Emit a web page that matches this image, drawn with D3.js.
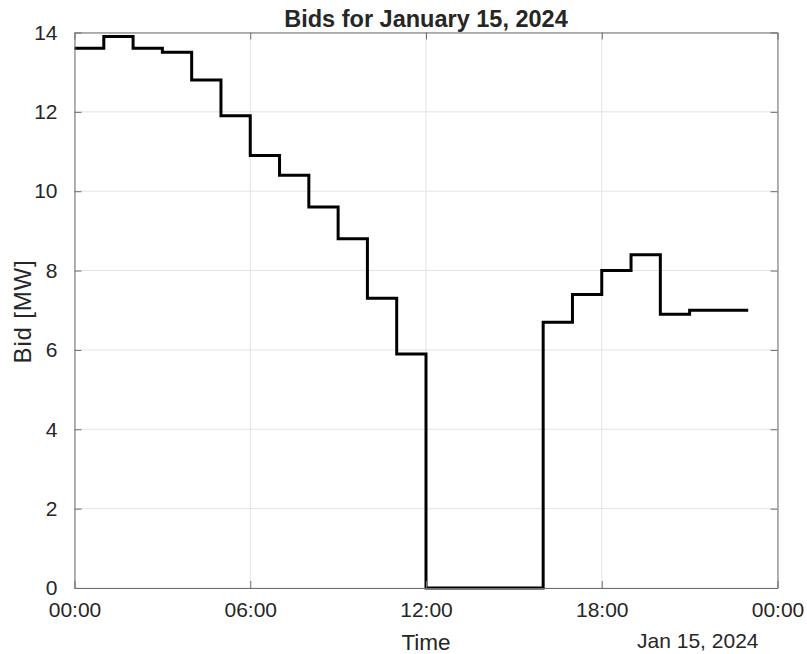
<!DOCTYPE html>
<html>
<head>
<meta charset="utf-8">
<script src="https://cdn.jsdelivr.net/npm/d3@7"></script>
<style>
  body { margin: 0; background: #fff; }
  text { font-family: "Liberation Sans", Arial, sans-serif; fill: #262626; }
</style>
</head>
<body>
<div id="chart"></div>
<script>
// hourly bids on Jan 15, 2024 (hour of day -> MW)
const hours = [0, 1, 2, 3, 4, 5, 6, 7, 8, 9, 10, 11, 12, 13, 14, 15, 16, 17, 18, 19, 20, 21, 22, 23];
const bids = [13.6, 13.9, 13.6, 13.5, 12.8, 11.9, 10.9, 10.4, 9.6, 8.8, 7.3, 5.9,
  0, 0, 0, 0, 6.7, 7.4, 8.0, 8.4, 6.9, 7.0, 7.0, 7.0];
const yTicks = [0, 2, 4, 6, 8, 10, 12, 14];
const xTickHours = [0, 6, 12, 18, 24];

const width = 807;
const height = 654;
const margin = { top: 32.5, right: 29.5, bottom: 66, left: 74.5 };
const chartWidth = width - margin.left - margin.right;
const chartHeight = height - margin.top - margin.bottom;

const day = h => new Date(2024, 0, 15, h);
const data = hours.map((h, i) => ({ t: day(h), v: bids[i] }));

const svg = d3.select('#chart')
  .append('svg')
  .attr('width', width)
  .attr('height', height)
  .append('g')
  .attr('transform', `translate(${margin.left},${margin.top})`);

const xScale = d3.scaleTime()
  .domain([day(0), day(24)])
  .range([0, chartWidth]);

const yScale = d3.scaleLinear()
  .domain([0, 14])
  .range([chartHeight, 0]);

// grid
svg.append('g')
  .selectAll('line.gx')
  .data(xTickHours.map(day))
  .enter()
  .append('line')
  .attr('x1', d => xScale(d)).attr('x2', d => xScale(d))
  .attr('y1', 0).attr('y2', chartHeight)
  .attr('stroke', '#e3e3e3');

svg.append('g')
  .selectAll('line.gy')
  .data(yTicks)
  .enter()
  .append('line')
  .attr('x1', 0).attr('x2', chartWidth)
  .attr('y1', d => yScale(d)).attr('y2', d => yScale(d))
  .attr('stroke', '#e3e3e3');

// bid stairs
const line = d3.line()
  .x(d => xScale(d.t))
  .y(d => yScale(d.v))
  .curve(d3.curveStepAfter);

svg.append('path')
  .datum(data)
  .attr('fill', 'none')
  .attr('stroke', '#000')
  .attr('stroke-width', 3)
  .attr('d', line);

// axes, ticks inward on all four sides
const tickFmt = d3.timeFormat('%H:%M');
const tickLen = 7;
const fontSize = 21;

const styleAxis = g => {
  g.select('.domain').attr('stroke', '#6e6e6e');
  g.selectAll('.tick line').attr('stroke', '#6e6e6e');
  g.selectAll('.tick text').style('font-size', fontSize + 'px').attr('fill', '#262626');
};

svg.append('g')
  .attr('transform', `translate(0,${chartHeight})`)
  .call(d3.axisBottom(xScale).tickValues(xTickHours.map(day)).tickFormat(tickFmt)
    .tickSizeInner(-tickLen).tickSizeOuter(0).tickPadding(14))
  .call(styleAxis);

svg.append('g')
  .call(d3.axisTop(xScale).tickValues(xTickHours.map(day)).tickFormat('')
    .tickSizeInner(-tickLen).tickSizeOuter(0))
  .call(styleAxis);

svg.append('g')
  .call(d3.axisLeft(yScale).tickValues(yTicks)
    .tickSizeInner(-tickLen).tickSizeOuter(0).tickPadding(17))
  .call(styleAxis);

svg.append('g')
  .attr('transform', `translate(${chartWidth},0)`)
  .call(d3.axisRight(yScale).tickValues(yTicks).tickFormat('')
    .tickSizeInner(-tickLen).tickSizeOuter(0))
  .call(styleAxis);

// x-axis label
svg.append('text')
  .attr('x', chartWidth / 2)
  .attr('y', chartHeight + 62)
  .attr('text-anchor', 'middle')
  .style('font-size', '22.5px')
  .text('Time');

// date secondary label
svg.append('text')
  .attr('x', chartWidth - 19)
  .attr('y', chartHeight + 59.5)
  .attr('text-anchor', 'end')
  .style('font-size', fontSize + 'px')
  .text('Jan 15, 2024');

// y-axis label
svg.append('text')
  .attr('transform', 'rotate(-90)')
  .attr('x', -279)
  .attr('y', -43.5)
  .attr('text-anchor', 'middle')
  .style('font-size', '24px')
  .style('letter-spacing', '0.8px')
  .text('Bid [MW]');

// title
svg.append('text')
  .attr('x', chartWidth / 2)
  .attr('y', -5.5)
  .attr('text-anchor', 'middle')
  .style('font-size', '23.5px')
  .style('font-weight', 'bold')
  .attr('fill', '#000')
  .text('Bids for January 15, 2024');
</script>
</body>
</html>
